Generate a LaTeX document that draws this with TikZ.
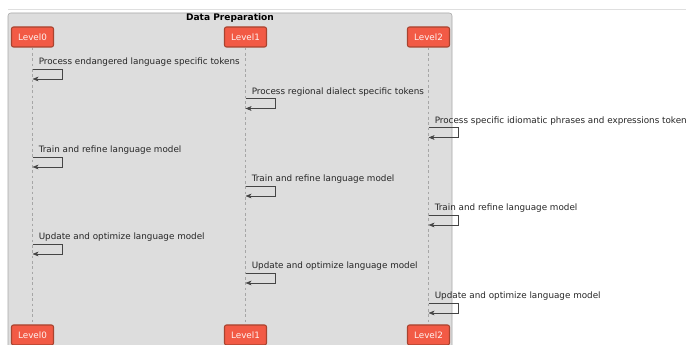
\documentclass[tikz,border=0pt]{standalone}
\usepackage{fontspec}
\setmainfont{DejaVu Sans}
\usetikzlibrary{arrows.meta}

\definecolor{groupfill}{HTML}{DDDDDD}
\definecolor{groupline}{HTML}{A8A8A8}
\definecolor{actorfill}{HTML}{F25A45}
\definecolor{actorline}{HTML}{A8432F}
\definecolor{msgline}{HTML}{454545}

\begin{document}
\begin{tikzpicture}[x=0.75pt,y=-0.75pt,
  actor/.style={draw=actorline, fill=actorfill, rounded corners=1.5pt, thick,
    text=white!92!actorfill, font=\fontsize{6.6}{7}\selectfont,
    minimum width=31.5pt, minimum height=15pt, inner sep=0pt},
  lifeline/.style={draw=gray!70, dashed, dash pattern=on 2pt off 2pt},
  msg/.style={draw=msgline, -{Stealth[length=4.5pt,width=3.5pt,inset=1.2pt]}},
  msgtext/.style={anchor=base west, inner sep=0pt, text=black!85,
    font=\fontsize{6.6}{7}\selectfont}]
\useasboundingbox (0,0) rectangle (686,345);
% Rahmen der Gruppe
\draw[gray!25] (8,9) -- (686,9);
\draw[groupline, fill=groupfill, rounded corners=2pt] (8,13) rectangle (452,370);
\node[font=\fontsize{6.8}{7}\selectfont\bfseries] (title) at (230,18.5) {Data Preparation};
% Teilnehmer oben und unten
\foreach \n/\x in {0/32.5,1/245.5,2/428.5} {
  \node[actor] (top\n) at (\x,37) {Level\n};
  \node[actor] (bot\n) at (\x,335) {Level\n};
  \draw[lifeline] (top\n) -- (bot\n);
}
% Selbstnachrichten
\foreach \i/\n/\y/\t in {
  1/0/69/Process endangered language specific tokens,
  2/1/98.5/Process regional dialect specific tokens,
  3/2/127.5/Process specific idiomatic phrases and expressions tokens,
  4/0/157/Train and refine language model,
  5/1/186/Train and refine language model,
  6/2/215/Train and refine language model,
  7/0/244/Update and optimize language model,
  8/1/273/Update and optimize language model,
  9/2/303/Update and optimize language model} {
  \coordinate (s\i) at (top\n |- 0,\y);
  \coordinate (e\i) at (top\n |- 0,\y+10);
  \draw[msg] (s\i) -- ++(30,0) -- ++(0,10) -- (e\i);
  \node[msgtext] (t\i) at ([xshift=4.5pt,yshift=3pt]s\i) {\t};
}
\end{tikzpicture}
\end{document}
